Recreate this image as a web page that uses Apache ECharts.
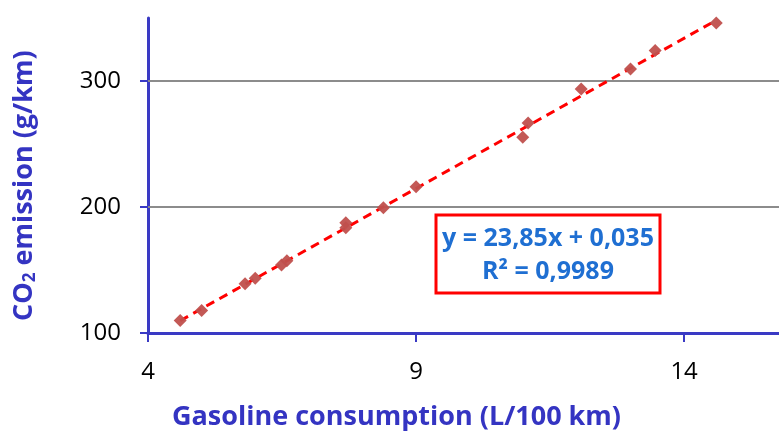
<!DOCTYPE html>
<html>
<head>
<meta charset="utf-8">
<script src="https://cdn.jsdelivr.net/npm/echarts@6/dist/echarts.min.js"></script>
<style>
html,body{margin:0;padding:0;background:#fff;}
#chart{width:779px;height:437px;}
</style>
</head>
<body>
<div id="chart"></div>
<script>
// Data
var consumption = [4.60, 5.00, 5.81, 6.00, 6.49, 6.59, 7.69, 7.69, 8.39, 9.00, 10.99, 11.09, 12.08, 13.00, 13.46, 14.60];
var emission    = [110.0, 117.9, 139.0, 143.5, 154.0, 157.4, 187.5, 183.5, 199.5, 216.0, 255.3, 266.6, 293.6, 309.5, 324.2, 346.0];
var xTicks = [4, 9, 14];
var yTicks = [100, 200, 300];
var slope = 23.85;
var intercept = 0.035;
var eqLine1 = 'y = 23,85x + 0,035';
var r2Text = '0,9989';

var points = consumption.map(function (x, i) { return [x, emission[i]]; });
var xMin = Math.min.apply(null, consumption);
var xMax = Math.max.apply(null, consumption);
var trend = [[xMin, slope * xMin + intercept], [xMax, slope * xMax + intercept]];
var gridValues = yTicks.slice(1).map(function (v) { return { yAxis: v }; });

var axisBlue = '#3a3ac4';
var titleBlue = '#3434c2';
var eqBlue = '#1f6fd2';
var font = '"Open Sans", "Noto Sans", sans-serif';

var chart = echarts.init(document.getElementById('chart'), null, { renderer: 'canvas' });
chart.setOption({
  animation: false,
  backgroundColor: '#ffffff',
  grid: { left: 148, top: 18, bottom: 104, right: 0, containLabel: false },
  xAxis: {
    type: 'value', min: 4, max: 15.77, interval: 5,
    axisLine: { show: true, onZero: false, lineStyle: { color: axisBlue, width: 3 } },
    axisTick: { show: true, inside: false, length: 9, customValues: xTicks, lineStyle: { color: axisBlue, width: 2 } },
    axisLabel: { show: true, customValues: xTicks, margin: 27, color: '#000', fontSize: 24, fontFamily: font },
    splitLine: { show: false }
  },
  yAxis: {
    type: 'value', min: 100, max: 350, interval: 100,
    axisLine: { show: true, onZero: false, lineStyle: { color: axisBlue, width: 3 } },
    axisTick: { show: true, inside: false, length: 8, customValues: yTicks, lineStyle: { color: axisBlue, width: 2 } },
    axisLabel: { show: true, customValues: yTicks, margin: 27, color: '#000', fontSize: 24, fontFamily: font },
    splitLine: { show: false }
  },
  series: [
    {
      type: 'line',
      data: trend,
      showSymbol: false,
      symbol: 'none',
      lineStyle: { color: '#ff0000', width: 3, type: [9, 6] },
      z: 3,
      markLine: {
        silent: true,
        symbol: ['none', 'none'],
        label: { show: false },
        lineStyle: { color: '#8c8c8c', width: 2, type: 'solid' },
        data: gridValues,
        z: 1
      }
    },
    {
      type: 'scatter',
      data: points,
      symbol: 'diamond',
      symbolSize: 13,
      itemStyle: { color: '#c0504d', opacity: 0.95 },
      z: 4
    }
  ],
  graphic: [
    {
      type: 'text',
      left: 172, top: 404,
      style: {
        text: 'Gasoline consumption (L/100 km)',
        fill: titleBlue, font: 'bold 27px ' + font
      }
    },
    {
      type: 'text',
      x: 10, y: 321,
      rotation: Math.PI / 2,
      style: {
        text: '{m|CO}{s|2}{m| emission (g/km)}',
        rich: {
          m: { fill: titleBlue, fontSize: 27, fontWeight: 'bold', fontFamily: font },
          s: { fill: titleBlue, fontSize: 17, fontWeight: 'bold', fontFamily: font, padding: [12, 0, 0, 0] }
        }
      }
    },
    {
      type: 'rect',
      shape: { x: 436, y: 215, width: 224, height: 78 },
      style: { fill: '#ffffff', stroke: '#ff0000', lineWidth: 3 },
      z: 10
    },
    {
      type: 'text',
      x: 548, y: 239,
      style: {
        text: eqLine1, fill: eqBlue, font: 'bold 25px ' + font,
        textAlign: 'center', textVerticalAlign: 'middle'
      },
      z: 11
    },
    {
      type: 'text',
      x: 548, y: 272,
      style: {
        text: 'R² = ' + r2Text, fill: eqBlue, font: 'bold 25px ' + font,
        textAlign: 'center', textVerticalAlign: 'middle'
      },
      z: 11
    }
  ]
});
</script>
</body>
</html>
